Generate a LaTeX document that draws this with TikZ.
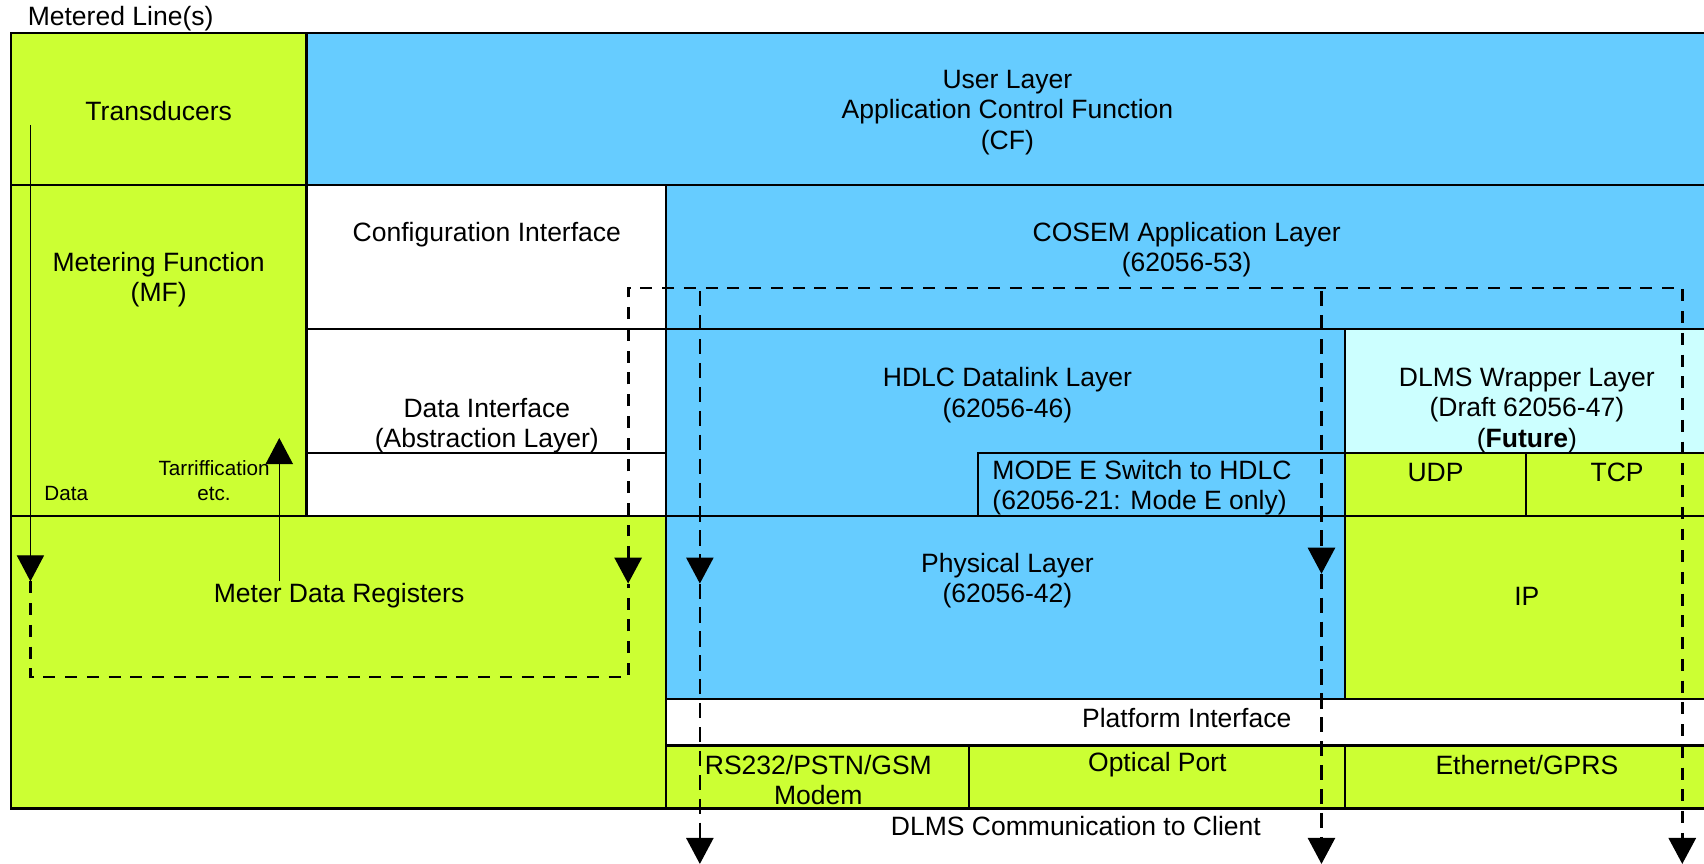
\documentclass[tikz,border=0pt]{standalone}
\usepackage{fontspec}
\setmainfont{Liberation Sans}
\usetikzlibrary{arrows.meta}
\definecolor{mgreen}{HTML}{CCFF33}
\definecolor{mblue}{HTML}{66CCFF}
\definecolor{mcyan}{HTML}{CCFFFF}
\newcommand\layerbox[6]{%
  \node[box, fill=#6, minimum width={(#4)-(#2)}, minimum height={(#5)-(#3)}] (#1) at ({((#2)+(#4))/2},{((#3)+(#5))/2}) {};}
\begin{document}
\begin{tikzpicture}[x=1pt,y=-1pt,
  box/.style={draw=black, line width=2pt, inner sep=0pt, outer sep=0pt},
  txt/.style={font=\fontsize{24.4}{28}\selectfont, align=center, inner sep=0pt, yshift=-1.5pt},
  small/.style={font=\fontsize{19}{23}\selectfont, align=center, inner sep=0pt, yshift=-1pt},
  solidarrow/.style={line width=1.2pt, -{Triangle[length=24pt,width=25pt]}},
  dashthick/.style={line width=2.6pt, dash pattern=on 11pt off 9pt},
  dashthin/.style={line width=2pt, dash pattern=on 14pt off 8pt},
  tipend/.style={-{Triangle[length=24pt,width=25pt]}},
]
\useasboundingbox (0,0) rectangle (1568,795);
\clip (0,0) rectangle (1568,795);

% boxes
\layerbox{trans}{10}{30}{282}{170}{mgreen}
\layerbox{user}{282}{30}{1580}{170}{mblue}
\layerbox{mf}{10}{170}{282}{475}{mgreen}
\layerbox{conf}{282}{170}{613}{303}{white}
\layerbox{cosem}{613}{170}{1580}{303}{mblue}
\layerbox{dataif}{282}{303}{613}{475}{white}
\layerbox{dataiflow}{282}{417}{613}{475}{white}
\layerbox{hdlc}{613}{303}{1238}{475}{mblue}
\layerbox{modee}{900}{417}{1238}{475}{mblue}
\layerbox{dlms}{1238}{303}{1580}{417}{mcyan}
\layerbox{udp}{1238}{417}{1404}{475}{mgreen}
\layerbox{tcp}{1404}{417}{1580}{475}{mgreen}
\layerbox{mdr}{10}{475}{613}{744}{mgreen}
\layerbox{phys}{613}{475}{1238}{643}{mblue}
\layerbox{ip}{1238}{475}{1580}{643}{mgreen}
\layerbox{plat}{613}{643}{1580}{686}{white}
\layerbox{rs}{613}{686}{892}{744}{mgreen}
\layerbox{opt}{892}{686}{1238}{744}{mgreen}
\layerbox{eth}{1238}{686}{1580}{744}{mgreen}

% texts
\node[txt] (tmeter) at (111,16) {Metered Line(s)};
\node[txt] (ttrans) at (146,101) {Transducers};
\node[txt] (tuser) at (927,102) {User Layer\\Application Control Function\\(CF)};
\node[txt] (tmf) at (146,256) {Metering Function\\(MF)};
\node[txt] (tconf) at (448,214) {Configuration Interface};
\node[txt] (tcosem) at (1092,228) {COSEM Application Layer\\(62056-53)};
\node[txt] (tdataif) at (448,390) {Data Interface\\(Abstraction Layer)};
\node[txt] (thdlc) at (927,362) {HDLC Datalink Layer\\(62056-46)};
\node[txt, align=left, anchor=west] (tmodee) at (913,447) {MODE E Switch to HDLC\\(62056-21: Mode E only)};
\node[txt] (tdlms) at (1405,376) {DLMS Wrapper Layer\\(Draft 62056-47)\\(\textbf{Future})};
\node[txt] (tudp) at (1321,433) {UDP};
\node[txt] (ttcp) at (1488,433) {TCP};
\node[small] (tdata) at (61,453) {Data};
\node[small] (ttarif) at (197,441) {Tarriffication\\etc.};
\node[txt] (tmdr) at (312,547) {Meter Data Registers};
\node[txt] (tphys) at (927,533) {Physical Layer\\(62056-42)};
\node[txt] (tip) at (1405,547) {IP};
\node[txt] (tplat) at (1092,659) {Platform Interface};
\node[txt] (trs) at (753,716) {RS232/PSTN/GSM\\Modem};
\node[txt] (topt) at (1065,702) {Optical Port};
\node[txt] (teth) at (1405,702) {Ethernet/GPRS};
\node[txt] (tdlmscomm) at (990,759) {DLMS Communication to Client};

% coordinates for connectors
\coordinate (dataS) at (28,115);
\coordinate (dataT) at (28,535);
\coordinate (loopBL) at (28,623);
\coordinate (loopBR) at (578,623);
\coordinate (regT) at (578,537);
\coordinate (topL) at (578,265);
\coordinate (topR) at (1548,265);
\coordinate (rightB) at (1548,795);
\coordinate (tarS) at (257,535);
\coordinate (tarT) at (257,403);
\coordinate (aS) at (644,268);
\coordinate (aM) at (644,537);
\coordinate (aB) at (644,795);
\coordinate (bS) at (1216,268);
\coordinate (bM) at (1216,528);
\coordinate (bB) at (1216,795);

% connectors
\draw[solidarrow] (dataS) -- (dataT);
\draw[solidarrow] (tarS) -- (tarT);
\draw[dashthick] (dataT) -- (loopBL) -- (loopBR) -- (regT);
\draw[dashthick, {Triangle[length=24pt,width=25pt]}-{Triangle[length=24pt,width=25pt]}] (regT) -- (topL) -- (topR) -- (rightB);
\draw[dashthin, tipend] (aS) -- (aM);
\draw[dashthin, tipend] (aM) -- (aB);
\draw[dashthin, tipend] (bS) -- (bM);
\draw[dashthin, tipend] (bM) -- (bB);
\end{tikzpicture}
\end{document}
